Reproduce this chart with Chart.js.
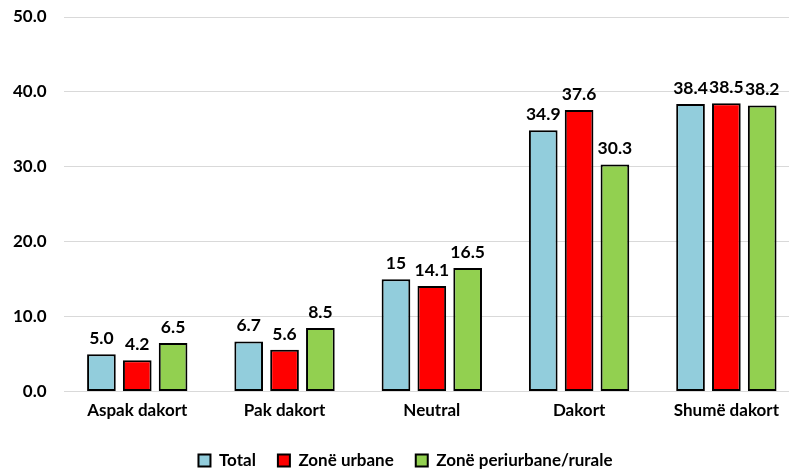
<!DOCTYPE html>
<html>
<head>
<meta charset="utf-8">
<script src="https://cdn.jsdelivr.net/npm/chart.js@4"></script>
<style>
  html, body { margin: 0; padding: 0; background: #fff; overflow: hidden; }
  #wrap { width: 800px; height: 470px; overflow: hidden; }
</style>
</head>
<body>
<div id="wrap"><canvas id="chart" width="800" height="479"></canvas></div>
<script>
const categories = ['Aspak dakort', 'Pak dakort', 'Neutral', 'Dakort', 'Shumë dakort'];
const seriesNames = ['Total', 'Zonë urbane', 'Zonë periurbane/rurale'];
const totalValues = [5.0, 6.7, 15.0, 34.9, 38.4];
const urbanValues = [4.2, 5.6, 14.1, 37.6, 38.5];
const ruralValues = [6.5, 8.5, 16.5, 30.3, 38.2];
const totalLabels = ['5.0', '6.7', '15', '34.9', '38.4'];
const urbanLabels = ['4.2', '5.6', '14.1', '37.6', '38.5'];
const ruralLabels = ['6.5', '8.5', '16.5', '30.3', '38.2'];
const colors = ['#92CDDC', '#FF0000', '#92D050'];

const FONT = 'Lato, "Open Sans", sans-serif';

// value labels above each bar
const barLabels = {
  id: 'barLabels',
  afterDatasetsDraw(chart) {
    const ctx = chart.ctx;
    ctx.save();
    ctx.font = 'bold 17.5px ' + FONT;
    ctx.fillStyle = '#000';
    ctx.textAlign = 'center';
    ctx.textBaseline = 'bottom';
    chart.data.datasets.forEach((ds, i) => {
      chart.getDatasetMeta(i).data.forEach((bar, j) => {
        ctx.fillText(ds.valueLabels[j], bar.x, bar.y - 7);
      });
    });
    ctx.restore();
  }
};

const valueSets = [totalValues, urbanValues, ruralValues];
const labelSets = [totalLabels, urbanLabels, ruralLabels];

new Chart(document.getElementById('chart'), {
  type: 'bar',
  data: {
    labels: categories,
    datasets: seriesNames.map((name, i) => ({
      label: name,
      data: valueSets[i],
      valueLabels: labelSets[i],
      backgroundColor: colors[i],
      borderColor: '#000',
      borderWidth: 2,
      borderSkipped: false,
      categoryPercentage: 0.73,
      barPercentage: 0.8
    }))
  },
  options: {
    responsive: false,
    animation: false,
    layout: { padding: { top: 17, left: 11, right: 0, bottom: 0 } },
    plugins: {
      legend: {
        position: 'bottom',
        labels: {
          boxWidth: 12,
          boxHeight: 12,
          padding: 22,
          color: '#000',
          font: { family: FONT, size: 17, weight: 'bold' }
        }
      },
      tooltip: { enabled: false }
    },
    scales: {
      x: {
        grid: { display: false, drawTicks: false },
        border: { display: false },
        ticks: {
          padding: 9,
          color: '#000',
          font: { family: FONT, size: 17, weight: 'bold' }
        }
      },
      y: {
        min: 0,
        max: 50,
        grid: { color: '#d9d9d9', drawTicks: true, tickLength: 15, tickColor: 'rgba(0,0,0,0)' },
        border: { display: false },
        ticks: {
          stepSize: 10,
          padding: 2,
          color: '#000',
          font: { family: FONT, size: 17, weight: 'bold' },
          callback: v => v.toFixed(1)
        }
      }
    }
  },
  plugins: [barLabels]
});
</script>
</body>
</html>
